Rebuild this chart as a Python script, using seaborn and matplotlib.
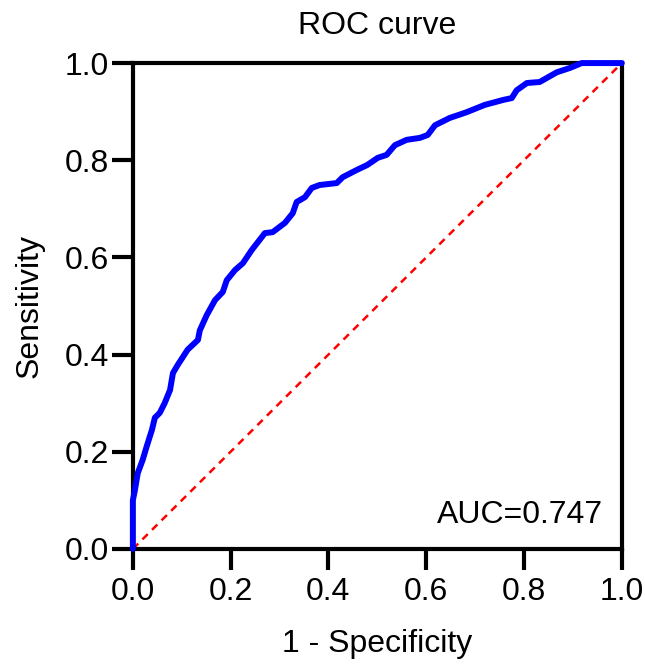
import numpy as np
import pandas as pd
import seaborn as sns
import matplotlib.pyplot as plt

# ROC points
fpr = [0.0, 0.0, 0.004, 0.01, 0.02, 0.028, 0.039, 0.045, 0.055, 0.065, 0.076,
       0.082, 0.092, 0.112, 0.133, 0.137, 0.151, 0.168, 0.184, 0.192, 0.209,
       0.225, 0.243, 0.27, 0.286, 0.311, 0.327, 0.335, 0.352, 0.366, 0.382,
       0.417, 0.429, 0.458, 0.479, 0.501, 0.519, 0.536, 0.56, 0.587, 0.603,
       0.618, 0.648, 0.683, 0.72, 0.757, 0.775, 0.785, 0.806, 0.832, 0.867,
       0.894, 0.918, 1.0]
tpr = [0.0, 0.10, 0.12, 0.156, 0.183, 0.21, 0.245, 0.27, 0.28, 0.30, 0.327,
       0.362, 0.379, 0.41, 0.43, 0.45, 0.481, 0.512, 0.529, 0.553, 0.574,
       0.588, 0.615, 0.65, 0.652, 0.671, 0.691, 0.714, 0.724, 0.743, 0.749,
       0.753, 0.765, 0.780, 0.79, 0.805, 0.811, 0.831, 0.842, 0.846, 0.852,
       0.872, 0.887, 0.899, 0.914, 0.924, 0.928, 0.944, 0.959, 0.961, 0.981,
       0.99, 1.0, 1.0]
auc_label = "AUC=0.747"
ticks = [0.0, 0.2, 0.4, 0.6, 0.8, 1.0]

sns.set_style("white")
plt.rcParams["font.family"] = ["Liberation Sans", "DejaVu Sans"]
plt.rcParams["text.color"] = "black"

roc = pd.DataFrame({"fpr": fpr, "tpr": tpr})
ref = pd.DataFrame({"fpr": [0.0, 1.0], "tpr": [0.0, 1.0]})

fig = plt.figure(figsize=(6.45, 6.71), dpi=100)
ax = fig.add_axes([0.206, 0.182, 0.758, 0.724])

sns.lineplot(data=ref, x="fpr", y="tpr", ax=ax, color="red", linestyle=(0, (3, 2.4)),
             linewidth=1.8)
sns.lineplot(data=roc, x="fpr", y="tpr", ax=ax, color="#0000ff", linewidth=4.3,
             sort=False, estimator=None, clip_on=False, zorder=5)

fs = 23
ax.set_xlim(0, 1)
ax.set_ylim(0, 1)
ax.set_xticks(ticks)
ax.set_yticks(ticks)
ax.set_xticklabels([f"{t:.1f}" for t in ticks], fontsize=fs)
ax.set_yticklabels([f"{t:.1f}" for t in ticks], fontsize=fs)
ax.tick_params(axis="both", direction="out", length=15, width=3, color="black",
               labelcolor="black", bottom=True, left=True)
ax.tick_params(axis="x", pad=5)
ax.tick_params(axis="y", pad=2)
for s in ax.spines.values():
    s.set_linewidth(3)
    s.set_color("black")

ax.set_title("ROC curve", fontsize=fs, pad=21, color="black")
ax.set_xlabel("1 - Specificity", fontsize=fs, labelpad=16, color="black")
ax.set_ylabel("Sensitivity", fontsize=fs, labelpad=15, color="black")
ax.text(0.962, 0.07, auc_label, transform=ax.transAxes, ha="right", va="center",
        fontsize=fs, color="black")

fig.savefig("out.png", dpi=100)
